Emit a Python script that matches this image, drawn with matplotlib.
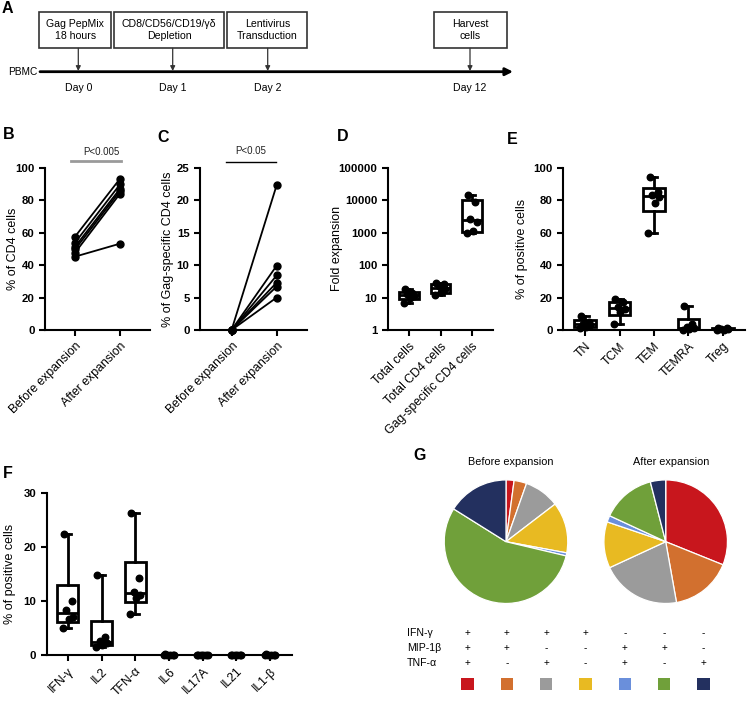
import numpy as np
import matplotlib
matplotlib.use("Agg")
import matplotlib.pyplot as plt
from matplotlib.patches import Rectangle
from matplotlib.ticker import LogLocator, NullFormatter

plt.rcParams['font.family'] = ['Liberation Sans', 'DejaVu Sans']

# ---------------- DATA ----------------
# Panel A
steps = ["Gag PepMix\n18 hours", "CD8/CD56/CD19/γδ\nDepletion", "Lentivirus\nTransduction", "Harvest\ncells"]
days = ["Day 0", "Day 1", "Day 2", "Day 12"]

# Panel B
bc_groups = ["Before expansion", "After expansion"]
b_before = [57.5, 53.8, 51.3, 49.7, 47.6, 45.2]
b_after = [93.2, 89.7, 87.0, 85.6, 84.0, 53.2]

# Panel C
c_before = [0, 0, 0, 0, 0, 0]
c_after = [22.3, 9.9, 8.4, 7.3, 6.7, 5.0]

# Panel D
d_groups = ["Total cells", "Total CD4 cells", "Gag-specific CD4 cells"]
d_total = [18, 14, 12.5, 11, 10, 7]
d_cd4 = [28, 26, 22, 18, 15, 12]
d_gag = [14600, 8800, 2700, 2100, 1100, 1000]

# Panel E
e_groups = ["TN", "TCM", "TEM", "TEMRA", "Treg"]
e_tn = [8.5, 5, 4, 3, 2, 1]
e_tcm = [19, 17, 14, 13, 11, 4]
e_tem = [94.5, 85, 83, 82, 78, 60]
e_temra = [15, 4, 2, 1, 0.5, 0]
e_treg = [1.5, 1, 0.8, 0.5, 0.3, 0.2]

# Panel F
f_groups = ["IFN-γ", "IL2", "TFN-α", "IL6", "IL17A", "IL21", "IL1-β"]
f_ifng = [22.3, 9.9, 8.3, 7.1, 6.6, 4.9]
f_il2 = [14.8, 3.4, 2.6, 2.3, 1.9, 1.4]
f_tnfa = [26.2, 14.3, 11.7, 11.1, 10.5, 7.5]
f_il6 = [0.1, 0.05, 0, 0, 0, 0]
f_il17a = [0.05, 0.03, 0, 0, 0, 0]
f_il21 = [0.05, 0, 0, 0, 0, 0]
f_il1b = [0.1, 0.05, 0, 0, 0, 0]

# Panel G
g_before = [2.1, 3.3, 9.2, 13.3, 0.8, 55.2, 16.1]
g_after = [31.1, 16.1, 20.9, 12.1, 1.7, 14.1, 4.0]
g_colors = ["#C8161D", "#D2702F", "#9B9B9B", "#E8BA22", "#6A8FDB", "#70A03A", "#23305F"]
g_rows = ["IFN-γ", "MIP-1β", "TNF-α"]
g_ifng = ["+", "+", "+", "+", "-", "-", "-"]
g_mip = ["+", "+", "-", "-", "+", "+", "-"]
g_tnf = ["+", "-", "+", "-", "+", "-", "+"]

# ---------------- FIGURE ----------------
W, H = 747, 703
fig = plt.figure(figsize=(W / 100, H / 100), dpi=100)


def px_axes(x0, y0, x1, y1):
    return fig.add_axes([x0 / W, 1 - y1 / H, (x1 - x0) / W, (y1 - y0) / H])


def letter(x, y, s):
    fig.text(x / W, 1 - y / H, s, fontsize=11.5, fontweight='bold', va='top', ha='left')


def style(ax, labels, ylabel, labx):
    for s in ['top', 'right']:
        ax.spines[s].set_visible(False)
    for s in ['left', 'bottom']:
        ax.spines[s].set_linewidth(1.5)
    ax.tick_params(axis='both', width=1.5, length=4, direction='out')
    ax.set_xticks(range(len(labels)))
    ax.set_xticklabels(labels, rotation=45, ha='right', rotation_mode='anchor', fontsize=8.8)
    for lab in ax.get_yticklabels():
        lab.set_fontweight('bold')
        lab.set_fontsize(8.2)
    ax.set_ylabel(ylabel, fontsize=9, va='center')
    ax.yaxis.set_label_coords(labx, 0.5)


jit = [-0.13, 0.11, -0.05, 0.15, 0.02, -0.16]


def boxes(ax, groups_data, width=0.62):
    stats = []
    for d in groups_data:
        d = np.asarray(d, float)
        q1, med, q3 = np.percentile(d, [25, 50, 75], method='weibull')
        stats.append(dict(med=med, q1=q1, q3=q3, whislo=d.min(), whishi=d.max(), fliers=[]))
    ax.bxp(stats, positions=list(range(len(groups_data))), widths=width, showfliers=False,
           patch_artist=True,
           boxprops=dict(facecolor='white', edgecolor='black', linewidth=2),
           medianprops=dict(color='black', linewidth=2),
           whiskerprops=dict(color='black', linewidth=2),
           capprops=dict(color='black', linewidth=2), capwidths=0.2, zorder=2)
    for i, d in enumerate(groups_data):
        xs = [i + jit[k % len(jit)] for k in range(len(d))]
        ax.scatter(xs, d, s=22, color='black', zorder=3, clip_on=False)


# ---------------- Panel A ----------------
axA = px_axes(0, 0, W, 100)
axA.set_xlim(0, W)
axA.set_ylim(100, 0)
axA.axis('off')
box_x = [(39.3, 111), (114, 224), (227.3, 307.3), (434.3, 506.7)]
arrow_x = [78.3, 172.7, 267.7, 470]
axA.annotate('', xy=(513, 71.7), xytext=(40, 71.7),
             arrowprops=dict(arrowstyle='-|>', lw=2, color='black', mutation_scale=11, shrinkA=0, shrinkB=0))
axA.text(8, 71.7, "PBMC", fontsize=7.3, va='center', ha='left')
for (x0, x1), ax_, st, dy in zip(box_x, arrow_x, steps, days):
    axA.add_patch(Rectangle((x0, 11.7), x1 - x0, 36.6, fill=False, lw=1.2, edgecolor='#333333'))
    axA.text((x0 + x1) / 2, 30, st, fontsize=7.6, ha='center', va='center', linespacing=1.3)
    axA.annotate('', xy=(ax_, 71), xytext=(ax_, 48.3),
                 arrowprops=dict(arrowstyle='-|>', lw=0.9, color='#333333', mutation_scale=7,
                                 shrinkA=0, shrinkB=0))
    axA.text(ax_, 88, dy, fontsize=7.6, ha='center', va='center')
letter(2, 1, "A")

# ---------------- Panel B ----------------
axB = px_axes(45, 167.7, 150, 330)
for b, a in zip(b_before, b_after):
    axB.plot([0, 1], [b, a], '-o', color='black', lw=1.3, ms=5, clip_on=False, zorder=3)
axB.set_xlim(-0.667, 1.667)
axB.set_ylim(0, 100)
axB.set_yticks([0, 20, 40, 60, 80, 100])
style(axB, bc_groups, "% of CD4 cells", -0.305)
axB.plot([-0.09, 1.02], [104.1, 104.1], color='#9A9A9A', lw=2, clip_on=False)
axB.text(0.58, 109.5, "P<0.005", fontsize=7, ha='center', va='center', color='#222222')
letter(3, 127, "B")

# ---------------- Panel C ----------------
axC = px_axes(200, 167.7, 306.7, 330)
for b, a in zip(c_before, c_after):
    axC.plot([0, 1], [b, a], '-o', color='black', lw=1.3, ms=5, clip_on=False, zorder=3)
axC.set_xlim(-0.70, 1.667)
axC.set_ylim(0, 25)
axC.set_yticks([0, 5, 10, 15, 20, 25])
style(axC, bc_groups, "% of Gag-specific CD4 cells", -0.30)
axC.plot([-0.13, 0.98], [25.9, 25.9], color='black', lw=1, clip_on=False)
axC.text(0.43, 27.5, "P<0.05", fontsize=7, ha='center', va='center', color='#222222')
letter(157, 130, "C")

# ---------------- Panel D ----------------
axD = px_axes(388, 167.7, 493, 330)
axD.set_yscale('log')
boxes(axD, [d_total, d_cd4, d_gag])
axD.set_xlim(-0.667, 2.667)
axD.set_ylim(1, 1e5)
axD.set_yticks([1, 10, 100, 1000, 10000, 100000])
axD.set_yticklabels(["1", "10", "100", "1000", "10000", "100000"])
axD.yaxis.set_minor_locator(LogLocator(base=10, subs=np.arange(2, 10)))
axD.yaxis.set_minor_formatter(NullFormatter())
axD.tick_params(axis='y', which='minor', length=2, width=0.8)
style(axD, d_groups, "Fold expansion", -0.486)
letter(337, 129, "D")

# ---------------- Panel E ----------------
axE = px_axes(563, 167.7, 745, 330)
boxes(axE, [e_tn, e_tcm, e_tem, e_temra, e_treg])
axE.set_xlim(-0.64, 4.64)
axE.set_ylim(0, 100)
axE.set_yticks([0, 20, 40, 60, 80, 100])
style(axE, e_groups, "% of positive cells", -0.227)
letter(507, 132, "E")

# ---------------- Panel F ----------------
axF = px_axes(46.7, 492.7, 291.7, 655)
boxes(axF, [f_ifng, f_il2, f_tnfa, f_il6, f_il17a, f_il21, f_il1b])
axF.set_xlim(-0.63, 6.64)
axF.set_ylim(0, 30)
axF.set_yticks([0, 10, 20, 30])
style(axF, f_groups, "% of positive cells", -0.15)
letter(3, 466, "F")

# ---------------- Panel G ----------------
r = 63
for cx, vals, title in [(506, g_before, "Before expansion"), (665.7, g_after, "After expansion")]:
    axp = px_axes(cx - r, 541.7 - r, cx + r, 541.7 + r)
    axp.pie(vals, colors=g_colors, startangle=90, counterclock=False, radius=1,
            wedgeprops=dict(edgecolor='white', linewidth=0.9))
    axp.set_xlim(-1.02, 1.02)
    axp.set_ylim(-1.02, 1.02)
    axp.set_aspect('equal')
    axp.axis('off')
    fig.text((cx + 5) / W, 1 - 461.7 / H, title, fontsize=7.8, ha='center', va='center')
letter(413, 448, "G")

axT = px_axes(400, 620, W, 703)
axT.set_xlim(400, W)
axT.set_ylim(703, 620)
axT.axis('off')
row_y = [632.7, 647.7, 663.3]
col0, dcol = 467.7, 39.27
for lab, yy, signs in zip(g_rows, row_y, [g_ifng, g_mip, g_tnf]):
    axT.text(406.7, yy, lab, fontsize=7.6, ha='left', va='center')
    for i, sg in enumerate(signs):
        axT.text(col0 + i * dcol, yy, sg, fontsize=7.2, ha='center', va='center')
for i, c in enumerate(g_colors):
    axT.add_patch(Rectangle((col0 + i * dcol - 6.2, 677.8), 12.4, 12.4, facecolor=c, edgecolor='none'))

fig.savefig("out.png", dpi=100)
